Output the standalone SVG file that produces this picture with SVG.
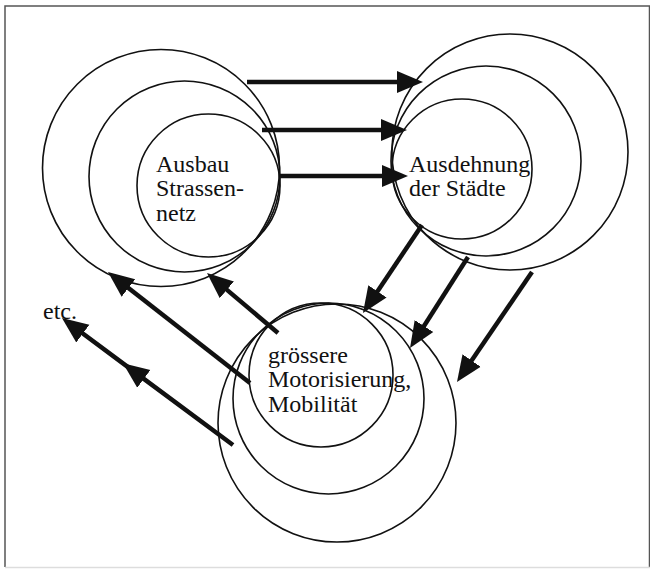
<svg xmlns="http://www.w3.org/2000/svg" width="650" height="569" viewBox="0 0 650 569">
<style>
.frame{fill:none;stroke:#555;stroke-width:1.5}
.ring{fill:none;stroke:#111;stroke-width:1.6}
.arr{fill:none;stroke:#111;stroke-width:4.5;marker-end:url(#ah)}
.lbl{font-family:"Liberation Serif","Times New Roman",serif;font-size:24px;fill:#111}
</style>
<defs>
<marker id="ah" markerUnits="userSpaceOnUse" markerWidth="28" markerHeight="24" viewBox="0 -12 28 24" refX="13" refY="0" orient="auto">
<path d="M0,-11 L26,0 L0,11 z" fill="#111"/>
</marker>
</defs>
<rect width="650" height="569" fill="#fff"/>
<path class="frame" d="M5,567 L5,6 L649.5,6 L649.5,567"/>
<line x1="5" y1="567.5" x2="650" y2="567.5" stroke="#ddd" stroke-width="1.5"/>
<g id="node-ausbau">
<circle class="ring" cx="161" cy="168" r="118.5"/>
<circle class="ring" cx="184.5" cy="176.5" r="95.5"/>
<circle class="ring" cx="208.5" cy="185.5" r="71.5"/>
<text class="lbl" x="156" y="172">Ausbau</text>
<text class="lbl" x="156" y="196">Strassen-</text>
<text class="lbl" x="156" y="221">netz</text>
</g>
<g id="node-ausdehnung">
<circle class="ring" cx="510" cy="152" r="118"/>
<circle class="ring" cx="486" cy="161" r="95"/>
<circle class="ring" cx="462" cy="169" r="70"/>
<text class="lbl" x="409" y="172">Ausdehnung</text>
<text class="lbl" x="409" y="196">der Städte</text>
</g>
<g id="node-motorisierung">
<circle class="ring" cx="337" cy="423" r="119"/>
<circle class="ring" cx="328.5" cy="398.5" r="95.5"/>
<circle class="ring" cx="321" cy="375" r="72"/>
<text class="lbl" x="268" y="363">grössere</text>
<text class="lbl" x="268" y="387">Motorisierung,</text>
<text class="lbl" x="268" y="412">Mobilität</text>
</g>
<g id="node-etc">
<text class="lbl" x="43" y="319">etc.</text>
</g>
<g id="connectors">
<line class="arr" x1="247" y1="82" x2="410" y2="82"/>
<line class="arr" x1="262" y1="130" x2="394" y2="130"/>
<line class="arr" x1="279" y1="176" x2="395" y2="176"/>
<line class="arr" x1="422" y1="225" x2="370.2" y2="302.2"/>
<line class="arr" x1="468" y1="257" x2="417" y2="337"/>
<line class="arr" x1="532" y1="272" x2="464.3" y2="371.3"/>
<line class="arr" x1="250" y1="383" x2="118.2" y2="280"/>
<line class="arr" x1="278" y1="333" x2="216.9" y2="281.4"/>
<polyline class="arr" style="marker-mid:url(#ah)" points="233,445 133.4,371.1 72.4,325.8"/>
</g>
</svg>
